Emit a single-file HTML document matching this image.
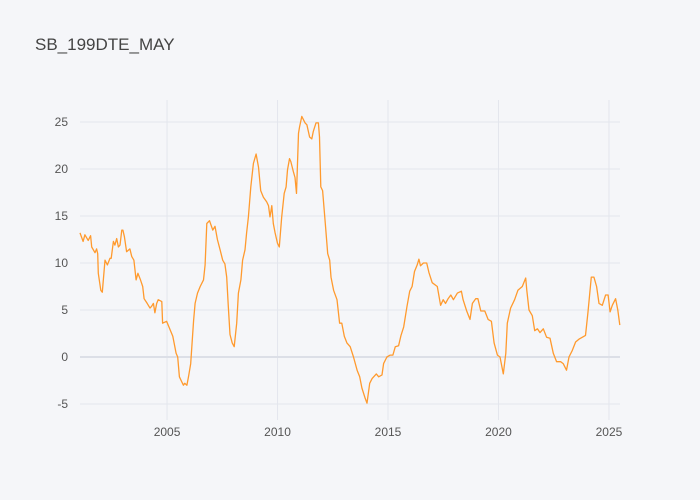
<!DOCTYPE html>
<html><head><meta charset="utf-8"><style>
body{margin:0;background:#f5f6f9;}
svg{display:block;font-family:"Liberation Sans",sans-serif;}
</style></head><body>
<svg id="chart" width="700" height="500">
<rect width="700" height="500" fill="#f5f6f9"/>
<text x="35" y="50" font-size="17" fill="#444">SB_199DTE_MAY</text>
<g id="grid"></g>
<g id="axes"></g>
<g id="series"></g>
</svg>
<script>
const years=[2001.06,2001.2,2001.28,2001.43,2001.54,2001.59,2001.74,2001.81,2001.86,2001.89,2002.0,2002.07,2002.19,2002.3,2002.42,2002.47,2002.57,2002.64,2002.72,2002.8,2002.87,2002.95,2003.0,2003.07,2003.17,2003.32,2003.4,2003.5,2003.6,2003.68,2003.8,2003.9,2003.96,2004.1,2004.23,2004.3,2004.38,2004.45,2004.53,2004.6,2004.76,2004.8,2004.98,2005.14,2005.26,2005.41,2005.48,2005.56,2005.66,2005.74,2005.8,2005.9,2005.97,2006.07,2006.2,2006.27,2006.38,2006.5,2006.65,2006.72,2006.8,2006.92,2007.07,2007.17,2007.28,2007.4,2007.52,2007.62,2007.7,2007.77,2007.85,2007.95,2008.04,2008.15,2008.23,2008.34,2008.42,2008.53,2008.6,2008.68,2008.79,2008.91,2009.03,2009.14,2009.24,2009.36,2009.51,2009.59,2009.66,2009.74,2009.81,2009.89,2010.0,2010.08,2010.19,2010.3,2010.39,2010.45,2010.54,2010.6,2010.72,2010.79,2010.86,2010.95,2011.0,2011.1,2011.25,2011.33,2011.45,2011.55,2011.62,2011.74,2011.85,2011.9,2011.96,2012.04,2012.16,2012.27,2012.36,2012.42,2012.54,2012.69,2012.81,2012.91,2013.02,2013.14,2013.29,2013.44,2013.6,2013.72,2013.82,2013.97,2014.05,2014.17,2014.28,2014.47,2014.58,2014.73,2014.8,2014.95,2015.1,2015.22,2015.33,2015.48,2015.59,2015.71,2015.86,2015.98,2016.09,2016.2,2016.32,2016.4,2016.47,2016.6,2016.75,2016.85,2017.0,2017.23,2017.38,2017.5,2017.6,2017.72,2017.84,2017.96,2018.14,2018.32,2018.4,2018.56,2018.71,2018.82,2018.97,2019.07,2019.2,2019.38,2019.53,2019.68,2019.8,2019.95,2020.07,2020.22,2020.33,2020.4,2020.55,2020.73,2020.88,2021.08,2021.23,2021.28,2021.38,2021.53,2021.64,2021.76,2021.88,2022.03,2022.18,2022.33,2022.48,2022.63,2022.81,2022.93,2023.08,2023.19,2023.34,2023.49,2023.64,2023.79,2023.94,2024.05,2024.2,2024.32,2024.44,2024.55,2024.7,2024.85,2024.96,2025.05,2025.15,2025.3,2025.4,2025.49];
const values=[13.2,12.3,13.0,12.4,12.9,11.7,11.1,11.5,11.0,8.9,7.1,6.9,10.3,9.8,10.5,10.5,12.3,11.9,12.6,11.7,11.9,13.5,13.5,12.8,11.2,11.5,10.7,10.3,8.2,8.9,8.2,7.5,6.2,5.7,5.2,5.4,5.7,4.7,5.7,6.1,5.9,3.6,3.8,2.9,2.2,0.4,0,-2.1,-2.6,-3.0,-2.8,-3.0,-2.1,-0.7,3.9,5.7,6.8,7.5,8.2,9.8,14.2,14.5,13.5,13.9,12.5,11.4,10.3,9.9,8.5,5.4,2.4,1.5,1.1,3.6,6.8,8.2,10.3,11.4,13.2,14.9,18.1,20.6,21.6,20.2,17.7,17.0,16.5,16.1,14.9,16.1,14.2,13.2,12.1,11.7,14.9,17.4,18.1,19.9,21.1,20.8,19.7,19.1,17.4,23.8,24.5,25.6,24.9,24.7,23.4,23.2,24.0,24.9,24.9,23.4,18.1,17.7,14.2,11.0,10.3,8.5,7.1,6.1,3.6,3.6,2.2,1.5,1.1,0,-1.4,-2.1,-3.3,-4.4,-4.9,-2.8,-2.3,-1.8,-2.1,-1.9,-0.7,0,0.2,0.2,1.1,1.2,2.3,3.2,5.4,7.0,7.5,9.1,9.8,10.4,9.7,10.0,10.0,9.0,7.9,7.5,5.5,6.1,5.7,6.2,6.6,6.1,6.8,7.0,6.1,4.9,4.0,5.7,6.2,6.2,4.9,4.9,4.0,3.8,1.5,0.2,0,-1.8,0.4,3.6,5.2,6.1,7.1,7.5,8.4,7.1,5.0,4.4,2.8,3.0,2.6,3.0,2.1,2.0,0.4,-0.5,-0.5,-0.7,-1.4,0,0.7,1.6,1.9,2.1,2.3,4.8,8.5,8.5,7.5,5.7,5.5,6.6,6.6,4.8,5.5,6.2,5.0,3.4];
const yTicks=[-5,0,5,10,15,20,25];
const xTicks=[2005,2010,2015,2020,2025];

const L=80,R=620,T=100,B=420;
const X0=2001.06,X1=2025.5,Y0=-6.7,Y1=27.34;
const sx=v=>L+(v-X0)/(X1-X0)*(R-L);
const sy=v=>B-(v-Y0)/(Y1-Y0)*(B-T);
const NS="http://www.w3.org/2000/svg";
const grid=document.getElementById('grid'),axes=document.getElementById('axes'),series=document.getElementById('series');
function mk(tag,attrs,parent){const e=document.createElementNS(NS,tag);for(const k in attrs)e.setAttribute(k,attrs[k]);parent.appendChild(e);return e;}
xTicks.forEach(t=>{
  const l=mk('line',{x1:sx(t),x2:sx(t),y1:T,y2:B,stroke:'#e3e6ed','stroke-width':1},grid);
  
  
  const tx=mk('text',{x:sx(t),y:B+16,'font-size':12,fill:'#555','text-anchor':'middle'},axes);
  tx.textContent=t;
  
  
});
yTicks.forEach(t=>{
  const l=mk('line',{x1:L,x2:R,y1:sy(t),y2:sy(t),stroke:t===0?'#dcdfe7':'#e3e6ed','stroke-width':t===0?2:1},grid);
  
  
  const tx=mk('text',{x:L-12,y:sy(t)+4,'font-size':12,fill:'#555','text-anchor':'end'},axes);
  tx.textContent=t;
  
  
});
const d=years.map((y,i)=>(i?'L':'M')+sx(y).toFixed(1)+','+sy(values[i]).toFixed(1)).join('');
const p=mk('path',{d:d,fill:'none',stroke:'#ff9a2e','stroke-width':1.3,'stroke-linejoin':'round'},series);


</script>
</body></html>
